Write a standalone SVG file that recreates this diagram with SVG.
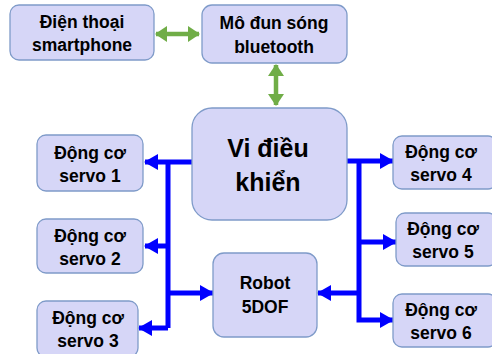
<svg xmlns="http://www.w3.org/2000/svg" width="492" height="354" viewBox="0 0 492 354">
<defs>
<style>
.box{fill:#d6d6f7;stroke:#7f9bc9;stroke-width:1.3}
.t{font-family:"Liberation Sans",Arial,sans-serif;font-weight:bold;font-size:17.5px;fill:#000;text-anchor:middle}
.big{font-size:25px}
.b{stroke:#0000ff;stroke-width:5;fill:none}
.g{stroke:#70ad47;stroke-width:4.5;fill:none}
</style>
<marker id="ab" markerUnits="userSpaceOnUse" markerWidth="14" markerHeight="16" refX="13" refY="8" orient="auto"><path d="M0,0 L14,8 L0,16 Z" fill="#0000ff"/></marker>
<marker id="ag" markerUnits="userSpaceOnUse" markerWidth="12" markerHeight="16" refX="11" refY="8" orient="auto-start-reverse"><path d="M0,0 L12,8 L0,16 Z" fill="#70ad47"/></marker>
</defs>
<g id="connectors">
<path class="g" d="M156,34 H199" marker-start="url(#ag)" marker-end="url(#ag)"/>
<path class="g" d="M276,65 V105" marker-start="url(#ag)" marker-end="url(#ag)"/>
<path class="b" d="M192,162 H145" marker-end="url(#ab)"/>
<path class="b" d="M168,162 V328"/>
<path class="b" d="M168,246 H145" marker-end="url(#ab)"/>
<path class="b" d="M168,293 H213" marker-end="url(#ab)"/>
<path class="b" d="M168,328 H139" marker-end="url(#ab)"/>
<path class="b" d="M347,161 H393" marker-end="url(#ab)"/>
<path class="b" d="M359,161 V320 H393" marker-end="url(#ab)"/>
<path class="b" d="M359,242 H396" marker-end="url(#ab)"/>
<path class="b" d="M359,293 H318" marker-end="url(#ab)"/>
</g>
<g id="phone"><rect class="box" x="10" y="5" width="144" height="55" rx="9"/><text class="t" x="82" y="28">Điện thoại</text><text class="t" x="82" y="51">smartphone</text></g>
<g id="bluetooth"><rect class="box" x="202" y="5" width="145" height="58" rx="10"/><text class="t" x="274" y="29">Mô đun sóng</text><text class="t" x="274" y="53">bluetooth</text></g>
<g id="mcu"><rect class="box" x="192" y="108" width="155" height="112" rx="20"/><text class="t big" x="268" y="157">Vi điều</text><text class="t big" x="268" y="191">khiển</text></g>
<g id="robot"><rect class="box" x="213" y="253" width="104" height="84" rx="11"/><text class="t" x="265" y="289">Robot</text><text class="t" x="265" y="313">5DOF</text></g>
<g id="servo1"><rect class="box" x="37" y="135" width="106" height="56" rx="9"/><text class="t" x="90" y="159">Động cơ</text><text class="t" x="90" y="182">servo 1</text></g>
<g id="servo2"><rect class="box" x="37" y="219" width="106" height="54" rx="9"/><text class="t" x="90" y="242">Động cơ</text><text class="t" x="90" y="265">servo 2</text></g>
<g id="servo3"><rect class="box" x="37" y="301" width="101" height="56" rx="9"/><text class="t" x="88" y="324">Động cơ</text><text class="t" x="88" y="347">servo 3</text></g>
<g id="servo4"><rect class="box" x="393" y="136" width="104" height="53" rx="9"/><text class="t" x="441" y="158">Động cơ</text><text class="t" x="441" y="181">servo 4</text></g>
<g id="servo5"><rect class="box" x="396" y="213" width="101" height="53" rx="9"/><text class="t" x="443" y="235">Động cơ</text><text class="t" x="443" y="258">servo 5</text></g>
<g id="servo6"><rect class="box" x="393" y="294" width="104" height="53" rx="9"/><text class="t" x="441" y="316">Động cơ</text><text class="t" x="441" y="339">servo 6</text></g>
</svg>
